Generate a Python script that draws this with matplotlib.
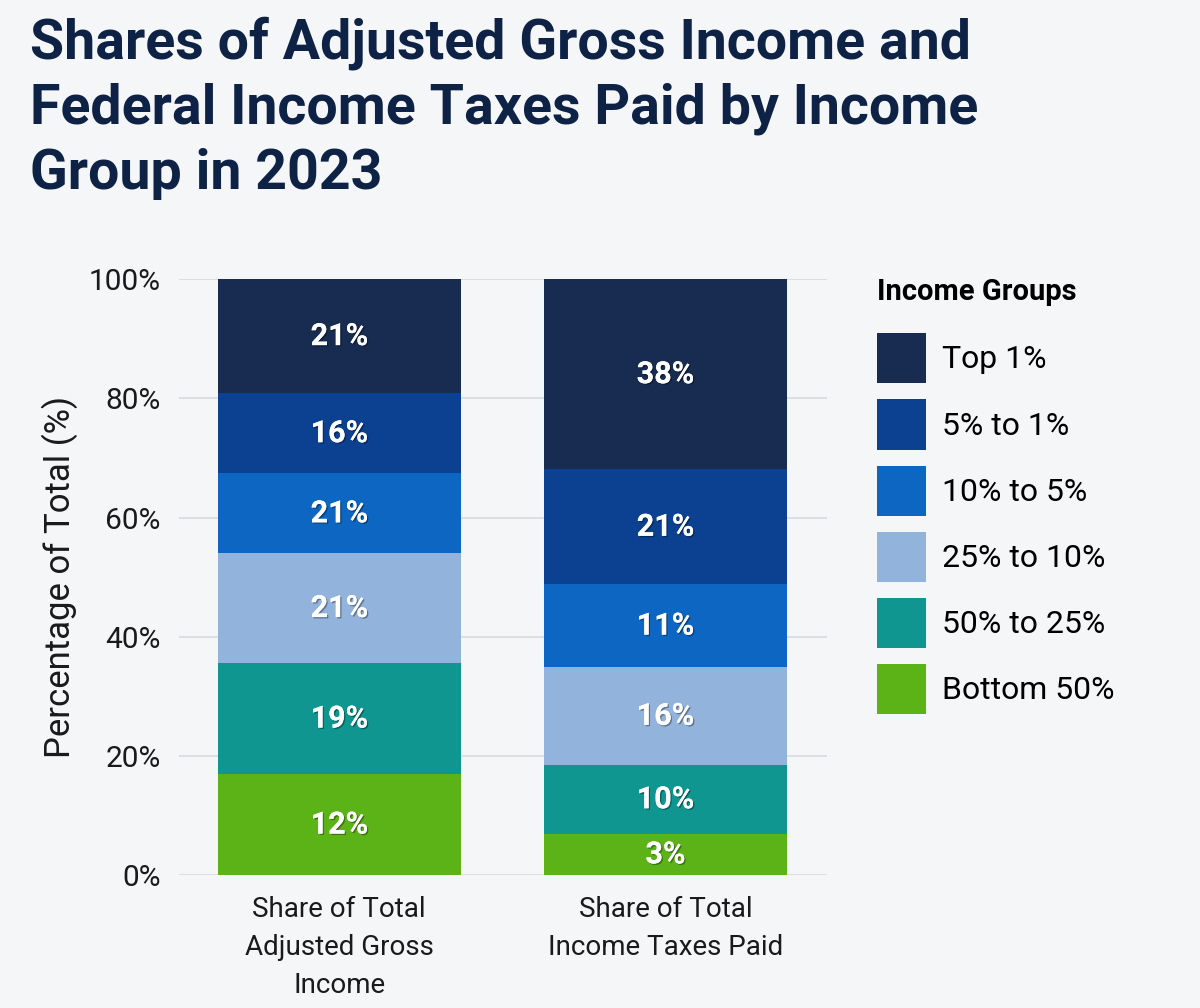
import matplotlib.pyplot as plt
import matplotlib.patheffects as pe
from matplotlib.patches import Patch

plt.rcParams["font.family"] = ["Roboto", "DejaVu Sans"]

# data (stacked bottom -> top), heights
groups = ["Bottom 50%", "50% to 25%", "25% to 10%", "10% to 5%", "5% to 1%", "Top 1%"]
colors = ["#5bb318", "#0f9690", "#92b4dc", "#0d66c2", "#0b4190", "#182c52"]
categories = ["Share of Total\nAdjusted Gross\nIncome", "Share of Total\nIncome Taxes Paid"]
agi_heights = [16.9, 18.7, 18.4, 13.4, 13.5, 19.1]
tax_heights = [6.9, 11.6, 16.4, 13.9, 19.3, 31.9]
agi_labels = ["12%", "19%", "21%", "21%", "16%", "21%"]
tax_labels = ["3%", "10%", "16%", "11%", "21%", "38%"]
yticks = [0, 20, 40, 60, 80, 100]

bg = "#f4f6f8"
title_color = "#0e2245"

fig = plt.figure(figsize=(12, 10.08), dpi=100, facecolor=bg)
ax = fig.add_axes([0.149, 0.132, 0.54, 0.591], facecolor=bg)

shadow = [pe.withSimplePatchShadow(offset=(1, -1), shadow_rgbFace="black", alpha=0.35), pe.Normal()]

for xi, (heights, labels) in enumerate([(agi_heights, agi_labels), (tax_heights, tax_labels)]):
    bottom = 0
    for h, lab, col in zip(heights, labels, colors):
        ax.bar(xi, h, bottom=bottom, width=0.745, color=col, zorder=3)
        ax.text(xi, bottom + h / 2, lab, ha="center", va="center", color="white",
                fontsize=22, fontweight="bold", zorder=4, path_effects=shadow)
        bottom += h

ax.set_xlim(-0.492, 1.495)
ax.set_ylim(0, 100)
ax.set_yticks(yticks)
ax.set_yticklabels([f"{t}%" for t in yticks])
ax.set_xticks([0, 1])
ax.set_xticklabels(categories, linespacing=1.52)
ax.tick_params(axis="y", length=0, pad=13, labelsize=21.5, labelcolor="#1a1a1a")
ax.tick_params(axis="x", length=0, pad=15, labelsize=20, labelcolor="#1a1a1a")
ax.grid(axis="y", color="#d8dbde", linewidth=1.2, zorder=0)
for s in ax.spines.values():
    s.set_visible(False)
ax.set_ylabel("Percentage of Total (%)", fontsize=25, color="#1a1a1a", labelpad=8)

handles = [Patch(facecolor=c, label=g) for g, c in zip(groups, colors)][::-1]
leg = fig.legend(handles=handles, loc="upper left", bbox_to_anchor=(0.731, 0.724),
                 frameon=False, fontsize=23, title="Income Groups",
                 title_fontproperties={"weight": "bold", "size": 21},
                 alignment="left", handlelength=1.53, handleheight=2.04,
                 labelspacing=0.5, handletextpad=0.5, borderpad=0, borderaxespad=0)
# a bit more room between the legend title and the first entry
leg._legend_box.sep = 0.5 * 23 + 8

fig.text(0.025, 0.984, "Shares of Adjusted Gross Income and\nFederal Income Taxes Paid by Income\nGroup in 2023",
         ha="left", va="top", fontsize=40, fontweight="bold", color=title_color, linespacing=1.31)

fig.savefig("out.png", dpi=100, facecolor=bg)
